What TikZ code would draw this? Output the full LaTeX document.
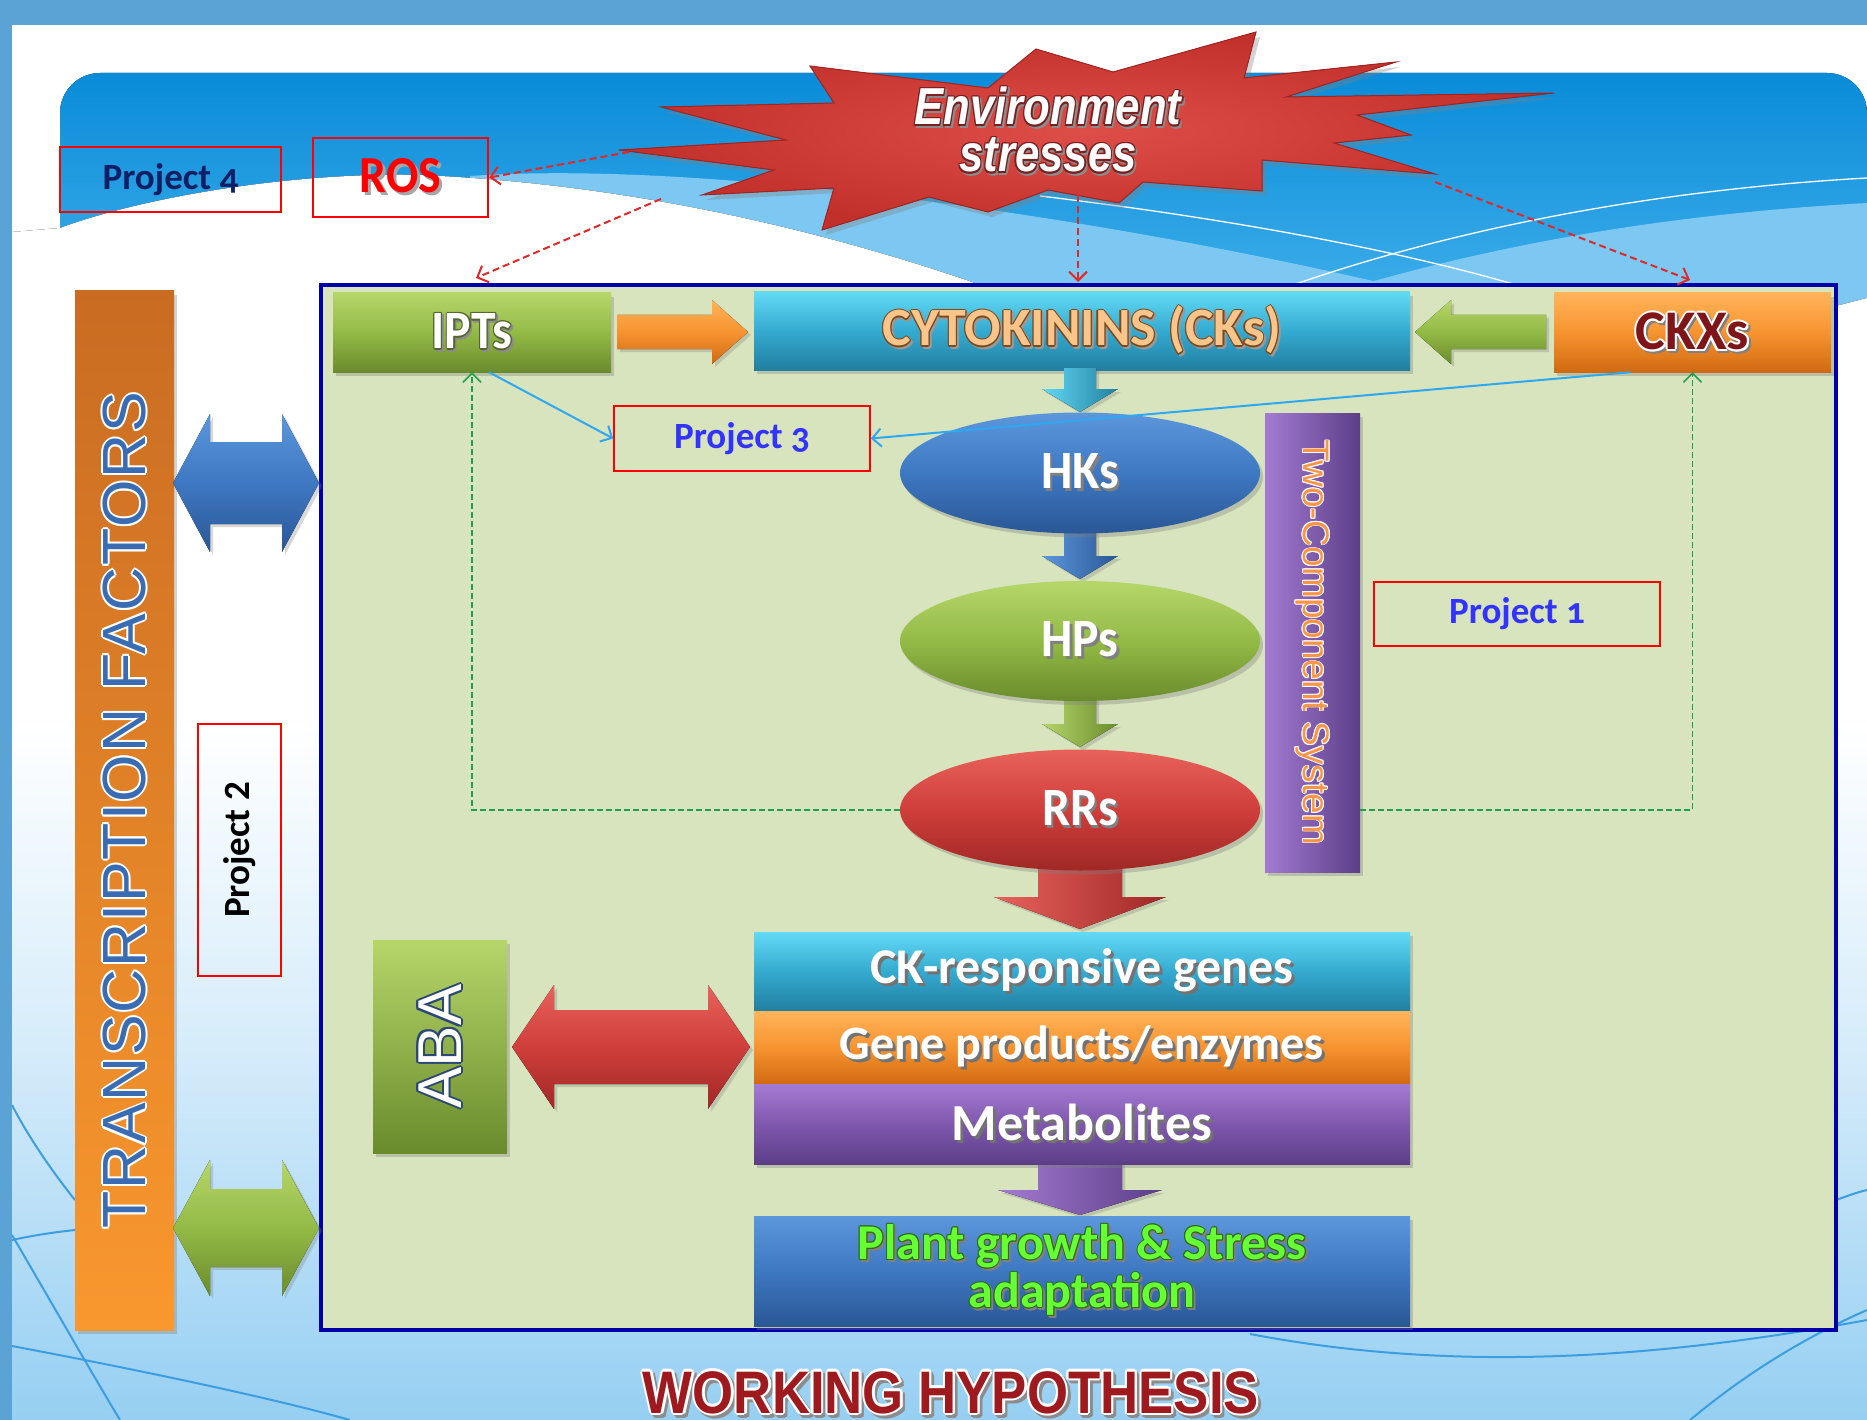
\documentclass[tikz,border=0pt]{standalone}
\usepackage{graphicx}
\usepackage{fontspec}
\setmainfont{Carlito}
\newfontfamily\calos[Numbers=OldStyle]{Carlito}
\newfontfamily\ari{Liberation Sans}
\newfontfamily\arisp[LetterSpace=3]{Liberation Sans}
\usetikzlibrary{shadows,arrows.meta,shapes.geometric}

\definecolor{framec}{HTML}{5BA3D5}
\definecolor{bgb}{HTML}{96CFF2}
\definecolor{bgm}{HTML}{D6ECFA}
\definecolor{banT}{HTML}{0A8CD9}
\definecolor{banB}{HTML}{46B3EC}
\definecolor{band}{HTML}{7CC8F2}
\definecolor{curvc}{HTML}{3C9EE0}
\definecolor{mainfill}{HTML}{D7E4BD}
\definecolor{mainline}{HTML}{0000AA}
\definecolor{grT}{HTML}{B6D66A}
\definecolor{grM}{HTML}{93BA46}
\definecolor{grB}{HTML}{6A8B2C}
\definecolor{orT}{HTML}{FFB45A}
\definecolor{orM}{HTML}{F79330}
\definecolor{orB}{HTML}{D06A12}
\definecolor{tfT}{HTML}{C96C22}
\definecolor{tfB}{HTML}{F9982E}
\definecolor{tlT}{HTML}{62DAF5}
\definecolor{tlM}{HTML}{35AAD0}
\definecolor{tlB}{HTML}{217FA0}
\definecolor{blT}{HTML}{5C97DC}
\definecolor{blM}{HTML}{3E78C2}
\definecolor{blB}{HTML}{2A5796}
\definecolor{rdT}{HTML}{E8625C}
\definecolor{rdM}{HTML}{CF3E3A}
\definecolor{rdB}{HTML}{A02826}
\definecolor{puT}{HTML}{A47BD2}
\definecolor{puM}{HTML}{7F58AE}
\definecolor{puB}{HTML}{5C3E88}
\definecolor{stI}{HTML}{DE4E48}
\definecolor{stO}{HTML}{C2302C}
\definecolor{stL}{HTML}{A02420}
\definecolor{redd}{HTML}{E02828}
\definecolor{grd}{HTML}{1FA050}
\definecolor{blu}{HTML}{2EA8F0}
\definecolor{pblue}{HTML}{3333FF}
\definecolor{pnavy}{HTML}{0F1F66}
\definecolor{iptso}{HTML}{55652C}
\definecolor{cko}{HTML}{7A4A1E}
\definecolor{ckf}{HTML}{F9C58A}
\definecolor{ckxf}{HTML}{7E1518}
\definecolor{tcsf}{HTML}{F79646}
\definecolor{plf}{HTML}{66FF33}
\definecolor{plo}{HTML}{2E6B1A}
\definecolor{abao}{HTML}{2C4775}
\definecolor{tff}{HTML}{3A6CB4}
\definecolor{whf}{HTML}{9E1A1F}
\definecolor{envo}{HTML}{7A2020}

\pgfdeclareverticalshading{bgsh}{100bp}{color(0bp)=(bgb); color(25bp)=(bgb); color(40bp)=(bgm); color(53bp)=(white); color(100bp)=(white)}

\newdimen\olA \newdimen\olB
% outlined text: #1 outline colour, #2 fill colour, #3 outline width (pt), #4 text
\newcommand\olt[4]{\leavevmode\begingroup\olA=#3pt\relax\olB=0.7071\olA
 \rlap{\kern\olA\textcolor{#1}{#4}}%
 \rlap{\kern-\olA\textcolor{#1}{#4}}%
 \rlap{\raisebox{\olA}{\textcolor{#1}{#4}}}%
 \rlap{\raisebox{-\olA}{\textcolor{#1}{#4}}}%
 \rlap{\kern\olB\raisebox{\olB}{\textcolor{#1}{#4}}}%
 \rlap{\kern\olB\raisebox{-\olB}{\textcolor{#1}{#4}}}%
 \rlap{\kern-\olB\raisebox{\olB}{\textcolor{#1}{#4}}}%
 \rlap{\kern-\olB\raisebox{-\olB}{\textcolor{#1}{#4}}}%
 \textcolor{#2}{#4}\endgroup}
% outlined text with shadow
\newcommand\olsh[6]{\leavevmode\rlap{\kern#2pt\raisebox{-#2pt}{\olt{#1}{#1}{#5}{#6}}}\olt{#3}{#4}{#5}{#6}}
% shadowed text
\newcommand\shd[3]{\leavevmode\rlap{\kern#2pt\raisebox{-#2pt}{\textcolor{#1}{#3}}}#3}

\tikzset{
 box/.style={inner sep=0pt, drop shadow={opacity=0.35, shadow xshift=3pt, shadow yshift=-4pt}},
 blk/.style={drop shadow={opacity=0.3, shadow xshift=3pt, shadow yshift=-3pt}},
 grs/.style={top color=grT, bottom color=grB, middle color=grM},
 ors/.style={top color=orT, bottom color=orB, middle color=orM},
 tls/.style={top color=tlT, bottom color=tlB, middle color=tlM},
 bls/.style={top color=blT, bottom color=blB, middle color=blM},
 rds/.style={top color=rdT, bottom color=rdB, middle color=rdM},
 pus/.style={top color=puT, bottom color=puB, middle color=puM},
 proj/.style={draw=red, line width=1.6pt, inner sep=0pt, font=\calos\bfseries\fontsize{37}{37}\selectfont},
 bigtxt/.style={font=\bfseries\fontsize{54}{54}\selectfont, text=white},
 reddash/.style={draw=redd, line width=2pt, dash pattern=on 7pt off 4pt, -{Straight Barb[length=9pt,width=18pt]}},
 grdash/.style={draw=grd, line width=1.6pt, dash pattern=on 6pt off 3pt, -{Straight Barb[length=9pt,width=18pt]}},
 bluln/.style={draw=blu, line width=2pt, -{Straight Barb[length=9pt,width=18pt]}},
 bgcurve/.style={draw=curvc, line width=2pt},
}

\begin{document}
\begin{tikzpicture}[x=1pt,y=-1pt]
\useasboundingbox (0,0) rectangle (1867,1420);
% ---------- background ----------
\fill[framec] (0,0) rectangle (1867,1420);
\fill[shading=bgsh] (12,26) rectangle (1867,1420);
\fill[top color=banT, bottom color=banB] (60,340) [rounded corners=40pt] -- (60,73) -- (1867,73) [sharp corners] -- (1867,340) -- cycle;
\fill[band] (470,176) .. controls (700,160) and (1100,215) .. (1420,292) -- (1420,340) -- (470,340) -- cycle;
\fill[band] (1250,320) .. controls (1450,250) and (1650,215) .. (1867,203) -- (1867,340) -- cycle;
\fill[shading=bgsh] (12,232) -- (60,228) .. controls (150,195) and (300,172) .. (420,175) .. controls (650,185) and (880,240) .. (1100,330) -- (1836,330) -- (1836,306) -- (1867,298) -- (1867,1420) -- (12,1420) -- cycle;
\draw[white, line width=1.3pt] (1040,196) .. controls (1200,215) and (1380,245) .. (1520,286);
\draw[white, line width=1.3pt] (1290,286) .. controls (1450,230) and (1650,190) .. (1867,178);
\draw[bgcurve] (1250,1334) .. controls (1450,1372) and (1650,1360) .. (1867,1320);
\draw[bgcurve] (1690,1420) .. controls (1750,1370) and (1810,1335) .. (1867,1310);
\draw[bgcurve] (1836,1200) .. controls (1850,1195) and (1858,1192) .. (1867,1190);
\draw[bgcurve] (12,1346) .. controls (150,1372) and (280,1400) .. (350,1420);
\draw[bgcurve] (12,1235) .. controls (50,1300) and (90,1370) .. (120,1420);
\draw[bgcurve] (12,1105) .. controls (30,1140) and (55,1175) .. (75,1200);
\draw[bgcurve] (12,1240) .. controls (30,1236) and (55,1232) .. (75,1230);

% ---------- star ----------
\fill[drop shadow={opacity=0.35, shadow xshift=4pt, shadow yshift=-5pt}, inner color=stI, outer color=stO, draw=stL, line width=1pt]
 (1256,32) -- (1244,78) -- (1396,62) -- (1286,97) -- (1554,93) -- (1357,115) -- (1411,135) -- (1334,143) -- (1435,174) -- (1262,160) -- (1262,191) -- (1143,182) -- (1119,203) -- (1048,190) -- (988,212) -- (929,197) -- (822,230) -- (834,188) -- (702,195) -- (774,170) -- (619,150) -- (786,140) -- (661,107) -- (834,103) -- (810,66) -- (988,88) -- (1036,49) -- (1113,72) -- cycle;
\coordinate (sA) at (629,152);
\coordinate (sB) at (661,199);
\coordinate (sC) at (1078,195);
\coordinate (sD) at (1435,182);
\node[anchor=base, font=\ari\bfseries\itshape\fontsize{52}{52}\selectfont] (env1) at (1048,125) {\scalebox{0.84}[1]{\olsh{black!45}{2}{envo}{white}{1.5}{Environment}}};
\node[anchor=base, font=\ari\bfseries\itshape\fontsize{52}{52}\selectfont] (env2) at (1048,172) {\scalebox{0.84}[1]{\olsh{black!45}{2}{envo}{white}{1.5}{stresses}}};

% ---------- project 4 / ROS ----------
\node[proj, text=pnavy, minimum width=221pt, minimum height=65pt] (p4) at (170.5,179.5) {Project 4};
\node[draw=red, line width=2.4pt, inner sep=0pt, minimum width=175pt, minimum height=79pt, text=red, font=\bfseries\fontsize{52}{52}\selectfont] (ros) at (400.5,177.5) {\scalebox{0.92}[1]{\shd{black!35}{3}{ROS}}};

% ---------- main frame ----------
\node[draw=mainline, line width=4.5pt, fill=mainfill, minimum width=1515pt, minimum height=1045pt, inner sep=0pt] (main) at (1078.5,807.5) {};

% ---------- transcription factors ----------
\node[box, top color=tfT, bottom color=tfB, minimum width=99pt, minimum height=1039pt] (tf) at (124.5,810.5) {\rotatebox{90}{\arisp\fontsize{61}{61}\selectfont\olt{white}{tff}{2}{TRANSCRIPTION FACTORS}}};
\fill[blk, bls] (173,483) -- (210,414) -- (210,442) -- (282,442) -- (282,414) -- (319,483) -- (282,552) -- (282,524) -- (210,524) -- (210,552) -- cycle;
\fill[blk, grs] (173,1228) -- (210,1160) -- (210,1189) -- (282,1189) -- (282,1160) -- (319,1228) -- (282,1296) -- (282,1267) -- (210,1267) -- (210,1296) -- cycle;
\node[proj, minimum width=83pt, minimum height=252pt, font=\bfseries\fontsize{37}{37}\selectfont] (p2) at (239.5,850) {\rotatebox{90}{Project 2}};

% ---------- top row ----------
\fill[blk, ors] (617,315) -- (712,315) -- (712,300) -- (748,332) -- (712,364) -- (712,349) -- (617,349) -- cycle;
\fill[blk, grs] (1546,315) -- (1451,315) -- (1451,300) -- (1415,332) -- (1451,364) -- (1451,349) -- (1546,349) -- cycle;
\node[box, grs, minimum width=278pt, minimum height=79pt, bigtxt] (ipts) at (472,332.5) {\scalebox{0.92}[1]{\olsh{black!45}{2}{iptso}{white}{1.3}{IPTs}}};
\node[box, tls, minimum width=656pt, minimum height=78pt, font=\bfseries\fontsize{54}{54}\selectfont] (ck) at (1082,331) {\olsh{black!40}{2}{cko}{ckf}{1.2}{CYTOKININS (CKs)}};
\node[box, ors, minimum width=277pt, minimum height=79pt, font=\bfseries\fontsize{56}{56}\selectfont] (ckx) at (1692.5,332.5) {\olsh{black!50}{2}{white}{ckxf}{2}{CKXs}};

% ---------- two component system ----------
\fill[blk, left color=tlT, right color=tlB] (1064,368) -- (1096,368) -- (1096,389) -- (1118,389) -- (1080,412) -- (1042,389) -- (1064,389) -- cycle;
\fill[blk, left color=blT, right color=blB] (1064,528) -- (1096,528) -- (1096,556) -- (1118,556) -- (1080,579) -- (1042,556) -- (1064,556) -- cycle;
\fill[blk, left color=grT, right color=grB] (1064,695) -- (1096,695) -- (1096,724) -- (1118,724) -- (1080,747) -- (1042,724) -- (1064,724) -- cycle;
\fill[blk, left color=rdT, right color=rdB] (1038,855) -- (1122,855) -- (1122,897) -- (1166,897) -- (1080,929) -- (994,897) -- (1038,897) -- cycle;
\node[box, ellipse, bls, minimum width=360pt, minimum height=121pt, bigtxt] (hks) at (1080,473) {\scalebox{0.92}[1]{\shd{black!50}{3}{HKs}}};
\node[box, ellipse, grs, minimum width=360pt, minimum height=120pt, bigtxt] (hps) at (1080,641) {\scalebox{0.92}[1]{\shd{black!50}{3}{HPs}}};
\node[box, ellipse, rds, minimum width=360pt, minimum height=121pt, bigtxt] (rrs) at (1080,810) {\scalebox{0.92}[1]{\shd{black!50}{3}{RRs}}};
\node[box, left color=puT, right color=puB, minimum width=95pt, minimum height=459pt] (tcs) at (1312.5,642.5) {\rotatebox{-90}{\ari\fontsize{37}{37}\selectfont\olt{white}{tcsf}{0.8}{Two-Component System}}};

\node[proj, text=pblue, minimum width=256pt, minimum height=65pt] (p3) at (742,438.5) {Project 3};
\node[proj, text=pblue, minimum width=286pt, minimum height=64pt] (p1) at (1517,614) {Project 1};

% ---------- lower stack ----------
\fill[blk, left color=puT, right color=puB] (1038,1160) -- (1122,1160) -- (1122,1190) -- (1162,1190) -- (1080,1215) -- (998,1190) -- (1038,1190) -- cycle;
\node[box, tls, minimum width=656pt, minimum height=79pt, font=\bfseries\fontsize{50}{50}\selectfont, text=white] (genes) at (1082,971.5) {\shd{black!55}{3}{CK-responsive genes}};
\node[box, ors, minimum width=656pt, minimum height=73pt, font=\bfseries\fontsize{48}{48}\selectfont, text=white] (prods) at (1082,1047.5) {\shd{black!55}{3}{Gene products/enzymes}};
\node[box, pus, minimum width=656pt, minimum height=80pt, font=\bfseries\fontsize{52}{52}\selectfont, text=white] (metab) at (1082,1124) {\shd{black!55}{3}{Metabolites}};
\node[box, bls, minimum width=656pt, minimum height=110pt, align=center, font=\bfseries\fontsize{50}{45}\selectfont] (plant) at (1082,1271) {\olsh{black!50}{2}{plo}{plf}{1}{Plant growth \& Stress}\\\olsh{black!50}{2}{plo}{plf}{1}{adaptation}};

\node[box, top color=grT, bottom color=grB, minimum width=134pt, minimum height=213pt] (aba) at (440,1046.5) {\rotatebox{90}{\ari\fontsize{62}{62}\selectfont\olt{abao}{white}{2}{ABA}}};
\fill[blk, rds] (512,1047) -- (554,985) -- (554,1010) -- (708,1010) -- (708,985) -- (750,1047) -- (708,1109) -- (708,1084) -- (554,1084) -- (554,1109) -- cycle;

% ---------- connectors ----------
\coordinate (eB) at (476,278);
\coordinate (eC) at (1078,282);
\coordinate (eD) at (1690,280);
\draw[reddash] (sA) -- (ros.east);
\draw[reddash] (sB) -- (eB);
\draw[reddash] (sC) -- (eC);
\draw[reddash] (sD) -- (eD);
\draw[grdash] (rrs.west) -| (ipts.south);
\draw[grdash] (tcs.east |- rrs.east) -| (ckx.south);
\draw[bluln] ([xshift=17pt]ipts.south) -- (p3.west);
\draw[bluln] ([xshift=-62pt]ckx.south) -- (p3.east);

% ---------- title ----------
\node[anchor=base, font=\ari\bfseries\fontsize{60}{60}\selectfont] (wh) at (951,1413) {\scalebox{0.88}[1]{\olsh{black!45}{3}{white}{whf}{2.5}{WORKING HYPOTHESIS}}};
\end{tikzpicture}
\end{document}
